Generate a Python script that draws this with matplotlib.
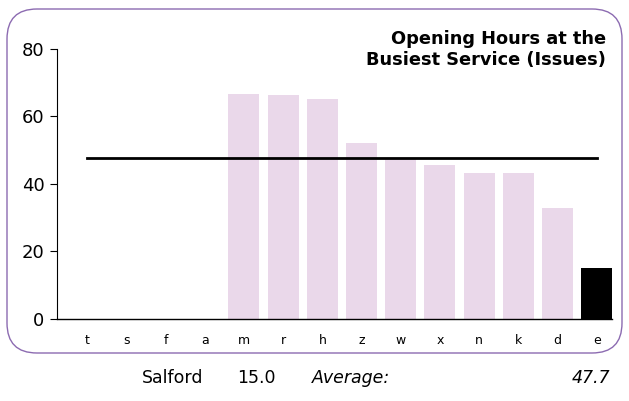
import numpy as np
import matplotlib
matplotlib.use("Agg")
from matplotlib import pyplot as plt
from matplotlib.patches import FancyBboxPatch

# chart data
categories = ['t', 's', 'f', 'a', 'm', 'r', 'h', 'z', 'w', 'x', 'n', 'k', 'd', 'e']
hours = [0, 0, 0, 0, 66.7, 66.3, 65.2, 52.2, 47.6, 45.6, 43.1, 43.1, 33.0, 15.0]
highlight = 'e'
average = 47.7
area_name = 'Salford'
area_value = 15.0

fig = plt.figure(figsize=(6.29, 4.01), dpi=100)
ax = fig.add_axes([0.0906, 0.2045, 0.8824, 0.6735])

x = np.arange(len(categories))
colors = ['black' if c == highlight else '#ead8ea' for c in categories]
ax.bar(x, hours, width=0.79, color=colors, edgecolor='none', zorder=2)

# average line across the categories
ax.plot([x[0], x[-1]], [average, average], color='black', lw=2, zorder=3)

ax.set_xlim(-0.77, len(categories) - 1 + 0.39)
ax.set_ylim(0, 80)
ax.set_yticks([0, 20, 40, 60, 80])
ax.set_xticks(x)
ax.set_xticklabels(categories, fontsize=9)
ax.tick_params(axis='x', length=0, pad=11)
ax.tick_params(axis='y', labelsize=13, length=5, pad=4, width=0.8)
for s in ['top', 'right']:
    ax.spines[s].set_visible(False)
ax.spines['left'].set_linewidth(0.8)
ax.spines['bottom'].set_linewidth(1.0)

ax.text(0.989, 1.07, 'Opening Hours at the\nBusiest Service (Issues)', transform=ax.transAxes,
        ha='right', va='top', fontsize=12.8, fontweight='bold', linespacing=1.2)

# rounded frame around the chart (inches)
frame = FancyBboxPatch((0.07, 0.48), 6.15, 3.44,
                       boxstyle='round,pad=0,rounding_size=0.3',
                       transform=fig.dpi_scale_trans, fill=False,
                       edgecolor='#8c6bb1', lw=1.0)
fig.patches.append(frame)

# footer
fy = 1 - 378 / 401
fig.text(142 / 629, fy, area_name, fontsize=12.5, va='center')
fig.text(237 / 629, fy, f'{area_value:.1f}', fontsize=12.5, va='center')
fig.text(312 / 629, fy, 'Average:', fontsize=12.5, style='italic', va='center')
fig.text(610 / 629, fy, f'{average:.1f}', fontsize=12.5, style='italic', va='center', ha='right')

fig.savefig('out.png', dpi=100)
